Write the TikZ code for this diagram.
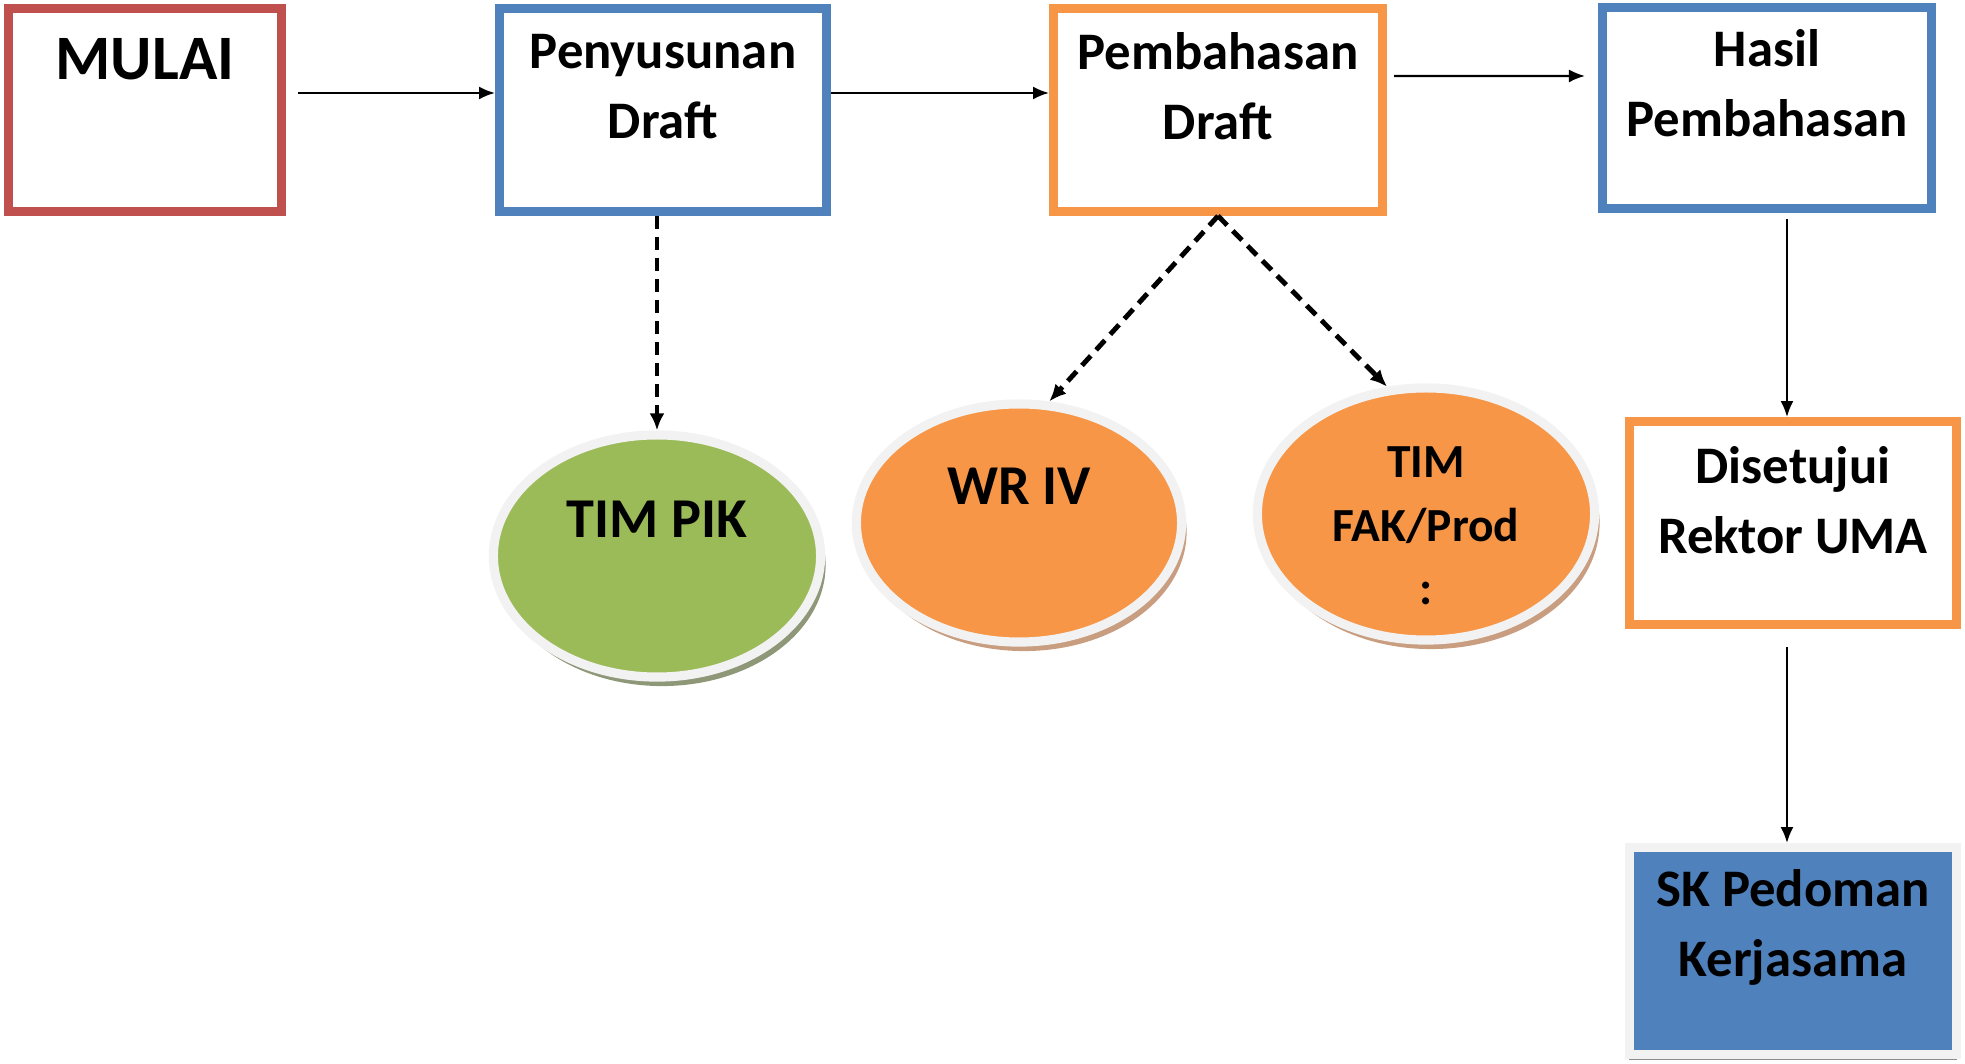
\documentclass[tikz,border=0pt]{standalone}
\usepackage{fontspec}
\setmainfont{Carlito}
\usetikzlibrary{arrows.meta, shapes.geometric, shadows}

\definecolor{umared}{HTML}{C0504D}
\definecolor{umablue}{HTML}{4F81BD}
\definecolor{umaorange}{HTML}{F79646}
\definecolor{umagreen}{HTML}{9BBB59}
\definecolor{umarim}{HTML}{F2F2F2}
\definecolor{greenshade}{HTML}{8E9878}
\definecolor{orangeshade}{HTML}{C89D80}

\tikzset{
  stage/.style={rectangle, draw, line width=2.5pt, fill=white, minimum width=3.27cm, minimum height=2.03cm, inner sep=0pt},
  bubble/.style={ellipse, draw=umarim, line width=2.6pt, inner sep=0pt},
  words/.style={font=\bfseries\fontsize{15}{19.9}\selectfont, align=center},
  flow/.style={->, line width=0.6pt},
  dashflow/.style={-{Latex[length=0.17cm, width=0.15cm]}, line width=1.4pt, dash pattern=on 0.13cm off 0.08cm},
}

\begin{document}
\begin{tikzpicture}[x=0.01cm, y=-0.01cm, >={Latex[length=0.16cm, width=0.13cm]}]
    \useasboundingbox (0,0) rectangle (1965,1064);

    % top row
    \node [stage, draw=umared, minimum width=2.73cm, label={[words, font=\bfseries\fontsize{18}{22}\selectfont, yshift=0.51cm]center:MULAI}] (mulai) at (145,110) {};
    \node [stage, draw=umablue, label={[words, yshift=0.235cm]center:Penyusunan\\Draft}] (susun) at (663,110) {};
    \node [stage, draw=umaorange, minimum width=3.29cm, label={[words, yshift=0.24cm]center:Pembahasan\\Draft}] (bahas) at (1218,110) {};
    \node [stage, draw=umablue, minimum width=3.29cm, minimum height=2.01cm, label={[words, yshift=0.25cm]center:Hasil\\Pembahasan}] (hasil) at (1767,108) {};

    % teams
    \node [bubble, fill=umagreen, minimum width=3.27cm, minimum height=2.42cm, drop shadow={shadow xshift=0.05cm, shadow yshift=-0.09cm, fill=greenshade, opacity=1}, label={[words, font=\bfseries\fontsize{16}{20}\selectfont, yshift=0.37cm]center:TIM PIK}] (pik) at (657,556) {};
    \node [bubble, fill=umaorange, minimum width=3.25cm, minimum height=2.38cm, drop shadow={shadow xshift=0.05cm, shadow yshift=-0.09cm, fill=orangeshade, opacity=1}, label={[words, font=\bfseries\fontsize{16}{20}\selectfont, yshift=0.37cm]center:WR IV}] (wr) at (1019,523) {};
    \node [bubble, fill=umaorange, minimum width=3.37cm, minimum height=2.52cm, drop shadow={shadow xshift=0.05cm, shadow yshift=-0.09cm, fill=orangeshade, opacity=1}, label={[words, font=\bfseries\fontsize{13.5}{18}\selectfont, yshift=-0.12cm]center:TIM\\FAK/Prod\\:}] (fak) at (1426,514) {};

    % right column
    \node [stage, draw=umaorange, label={[words, yshift=0.23cm]center:Disetujui\\Rektor UMA}] (setuju) at (1793,523) {};
    \node [stage, draw=umarim, fill=umablue, minimum height=2.07cm, drop shadow={shadow xshift=0cm, shadow yshift=-0.05cm, fill=black!45, opacity=1}, label={[words, yshift=0.24cm]center:SK Pedoman\\Kerjasama}] (sk) at (1793,951) {};

    \draw[flow] ([xshift=0.12cm, yshift=0.17cm]mulai.east) -- ([yshift=0.17cm]susun.west);
    \draw[flow] ([yshift=0.17cm]susun.east) -- ([yshift=0.17cm]bahas.west);
    \draw[flow] ([xshift=0.07cm, yshift=0.34cm]bahas.east) -- ([xshift=-0.13cm, yshift=0.32cm]hasil.west);

    \draw[dashflow] (pik.north |- susun.south) -- (pik.north);
    \draw[dashflow] (bahas.south) -- (wr.76);
    \draw[dashflow] (bahas.south) -- (fak.107);

    \draw[flow] ([xshift=-0.06cm, yshift=-0.06cm]setuju.north |- hasil.south) -- ([xshift=-0.06cm]setuju.north);
    \draw[flow] ([xshift=-0.06cm, yshift=-0.18cm]setuju.south) -- ([xshift=-0.06cm]sk.north);
\end{tikzpicture}
\end{document}
